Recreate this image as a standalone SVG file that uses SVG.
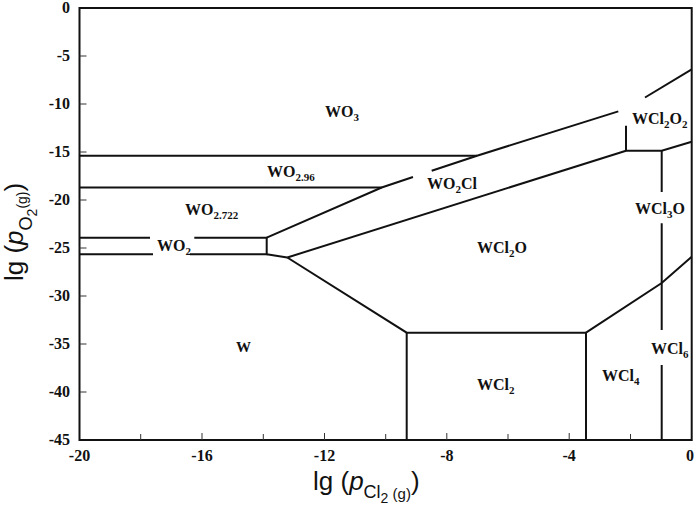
<svg xmlns="http://www.w3.org/2000/svg" width="700" height="508" viewBox="0 0 700 508">
<style>
.ax{fill:none;stroke:#111;stroke-width:2}
.tk{fill:none;stroke:#333;stroke-width:1}
.bd{fill:none;stroke:#111;stroke-width:2;stroke-linejoin:miter}
.tl{font-family:"Liberation Serif","Times New Roman",serif;font-weight:bold;font-size:16px;fill:#111}
.lb{font-family:"Liberation Serif","Times New Roman",serif;font-weight:bold;font-size:16px;fill:#111}
.sb{font-size:11px}
.ti{font-family:"Liberation Sans",Arial,sans-serif;font-size:26px;fill:#111}
</style>
<rect x="0" y="0" width="700" height="508" fill="#fff"/>
<g id="axes">
<rect class="ax" x="79.5" y="8" width="612.2" height="432"/>
<g class="tk">
<path d="M79.5 56h7M79.5 104h7M79.5 152h7M79.5 200h7M79.5 248h7M79.5 296h7M79.5 344h7M79.5 392h7"/>
<path d="M202 440v-7M324.5 440v-7M446.8 440v-7M569.2 440v-7"/>
<path d="M140.7 440v-6M263.3 440v-6M385.7 440v-6M508 440v-6M630.5 440v-6"/>
</g>
<g class="tl" text-anchor="end">
<text x="70" y="13">0</text>
<text x="70" y="61">-5</text>
<text x="70" y="109">-10</text>
<text x="70" y="157">-15</text>
<text x="70" y="205">-20</text>
<text x="70" y="253">-25</text>
<text x="70" y="301">-30</text>
<text x="70" y="349">-35</text>
<text x="70" y="397">-40</text>
<text x="70" y="445">-45</text>
</g>
<g class="tl" text-anchor="middle">
<text x="79.5" y="461">-20</text>
<text x="202" y="461">-16</text>
<text x="324.5" y="461">-12</text>
<text x="446.8" y="461">-8</text>
<text x="569.2" y="461">-4</text>
<text x="690" y="461">0</text>
</g>
<text class="ti" x="313" y="490">lg (<tspan font-style="italic">p</tspan><tspan font-size="18" dy="8">Cl</tspan><tspan font-size="14" dy="5">2</tspan><tspan font-size="15" dy="-4"> (g)</tspan><tspan dy="-9">)</tspan></text>
<text class="ti" transform="translate(23,281) rotate(-90)">lg (<tspan font-style="italic">p</tspan><tspan font-size="18" dy="9">O</tspan><tspan font-size="14" dy="5">2</tspan><tspan font-size="14" dy="-10">(g)</tspan><tspan dy="-4">)</tspan></text>
</g>
<g id="connectors" class="bd">
<path d="M79.5 155.7H477"/>
<path d="M79.5 187.5H381.7"/>
<path d="M79.5 237.7H150M194.3 237.7H266.7V254.3H190M153 254.3H79.5"/>
<path d="M266.7 254.3L287.3 257.5"/>
<path d="M266.7 237.7L381.7 187.5L413 177"/>
<path d="M431.7 170.8L477 155.7L618.3 111.4"/>
<path d="M645 97.5L691.7 69.3"/>
<path d="M287.3 257.5L626 150.7"/>
<path d="M287.3 257.5L406.7 332.7H586"/>
<path d="M406.7 332.7V440M586 332.7V440"/>
<path d="M586 332.7L661.7 283L691.7 256.7"/>
<path d="M626 125.7V150.7H661.7L691.7 141.7"/>
<path d="M661.7 150.7V192M661.7 223.3V330M661.7 365V440"/>
</g>
<g id="labels" class="lb">
<g id="n-WO3"><text x="325" y="117">WO<tspan class="sb" dy="4">3</tspan></text></g>
<g id="n-WO296"><text x="267" y="177">WO<tspan class="sb" dy="4">2.96</tspan></text></g>
<g id="n-WO2722"><text x="185" y="215">WO<tspan class="sb" dy="4">2.722</tspan></text></g>
<g id="n-WO2"><text x="157" y="251">WO<tspan class="sb" dy="4">2</tspan></text></g>
<g id="n-WO2Cl"><text x="427" y="189">WO<tspan class="sb" dy="4">2</tspan><tspan dy="-4">Cl</tspan></text></g>
<g id="n-WCl2O2"><text x="632" y="124">WCl<tspan class="sb" dy="4">2</tspan><tspan dy="-4">O</tspan><tspan class="sb" dy="4">2</tspan></text></g>
<g id="n-WCl3O"><text x="635" y="214">WCl<tspan class="sb" dy="4">3</tspan><tspan dy="-4">O</tspan></text></g>
<g id="n-WCl2O"><text x="477" y="253">WCl<tspan class="sb" dy="4">2</tspan><tspan dy="-4">O</tspan></text></g>
<g id="n-W"><text x="236" y="352" font-size="15">W</text></g>
<g id="n-WCl2"><text x="477" y="390">WCl<tspan class="sb" dy="4">2</tspan></text></g>
<g id="n-WCl4"><text x="602" y="381">WCl<tspan class="sb" dy="4">4</tspan></text></g>
<g id="n-WCl6"><text x="651" y="354">WCl<tspan class="sb" dy="4">6</tspan></text></g>
</g>
</svg>
